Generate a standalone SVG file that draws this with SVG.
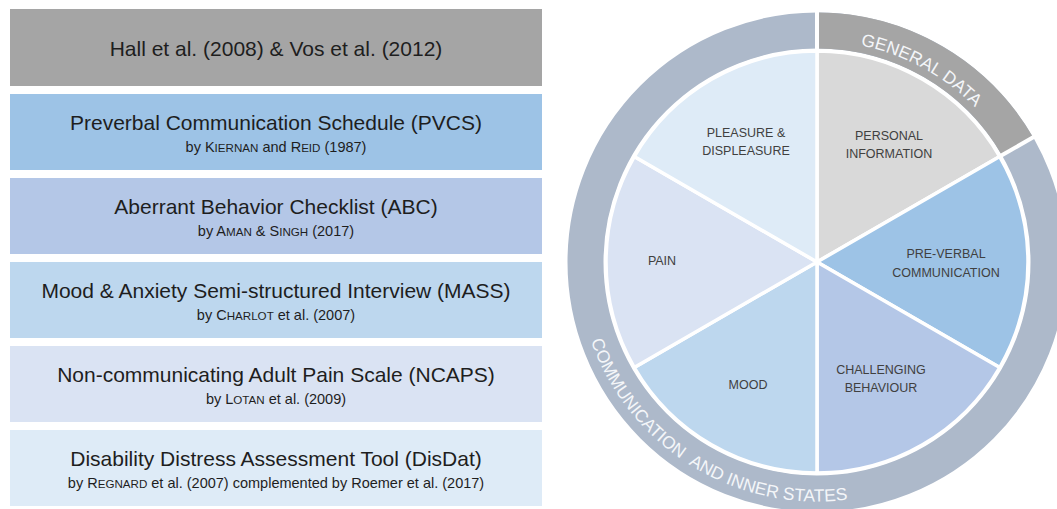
<svg xmlns="http://www.w3.org/2000/svg" width="1057" height="509" viewBox="0 0 1057 509">
<style>
.box { stroke: none; }
.t { font-family: "Liberation Sans", Arial, sans-serif; font-size: 21px; fill: #1e1e1e; text-anchor: middle; }
.s { font-family: "Liberation Sans", Arial, sans-serif; font-size: 14.5px; fill: #1e1e1e; text-anchor: middle; }
.sc { font-size: 11.6px; }
.lbl { font-family: "Liberation Sans", Arial, sans-serif; font-size: 12.5px; fill: #404040; text-anchor: middle; }
.ring { font-family: "Liberation Sans", Arial, sans-serif; font-size: 17.5px; fill: #f4f6f9; }
.mid { text-anchor: middle; }
.slice { stroke: #ffffff; stroke-width: 3.5; stroke-linejoin: round; }
.sep { stroke: #ffffff; stroke-width: 4; }
</style>
<defs>
<path id="arcGeneral" d="M817,41 A221,221 0 0 1 1008.39,151.5"/>
<path id="arcComm" d="M609.59,142.25 A239.5,239.5 0 0 0 1013.19,399.37"/>
</defs>
<rect width="1057" height="509" fill="#ffffff"/>

<g id="box-hall">
<rect class="box" x="10" y="9" width="532" height="77" fill="#a5a5a5"/>
<text class="t" x="276" y="56">Hall et al. (2008) &amp; Vos et al. (2012)</text>
</g>
<g id="box-pvcs">
<rect class="box" x="10" y="94" width="532" height="76" fill="#9dc3e6"/>
<text class="t" x="276" y="130">Preverbal Communication Schedule (PVCS)</text>
<text class="s" x="276" y="152">by K<tspan class="sc">IERNAN</tspan> and R<tspan class="sc">EID</tspan> (1987)</text>
</g>
<g id="box-abc">
<rect class="box" x="10" y="178" width="532" height="76" fill="#b4c7e7"/>
<text class="t" x="276" y="214">Aberrant Behavior Checklist (ABC)</text>
<text class="s" x="276" y="236">by A<tspan class="sc">MAN</tspan> &amp; S<tspan class="sc">INGH</tspan> (2017)</text>
</g>
<g id="box-mass">
<rect class="box" x="10" y="262" width="532" height="76" fill="#bdd7ee"/>
<text class="t" x="276" y="298">Mood &amp; Anxiety Semi-structured Interview (MASS)</text>
<text class="s" x="276" y="320">by C<tspan class="sc">HARLOT</tspan> et al. (2007)</text>
</g>
<g id="box-ncaps">
<rect class="box" x="10" y="346" width="532" height="76" fill="#dae3f3"/>
<text class="t" x="276" y="382">Non-communicating Adult Pain Scale (NCAPS)</text>
<text class="s" x="276" y="404">by L<tspan class="sc">OTAN</tspan> et al. (2009)</text>
</g>
<g id="box-disdat">
<rect class="box" x="10" y="430" width="532" height="76" fill="#deebf7"/>
<text class="t" x="276" y="466">Disability Distress Assessment Tool (DisDat)</text>
<text class="s" x="276" y="488">by R<tspan class="sc">EGNARD</tspan> et al. (2007) complemented by Roemer et al. (2017)</text>
</g>

<g id="ring-communication">
<circle cx="817" cy="262" r="231.5" fill="none" stroke="#adb9ca" stroke-width="36"/>
<text class="ring"><textPath href="#arcComm" startOffset="205.6">COMMUNICATION</textPath></text>
<text class="ring"><textPath href="#arcComm" startOffset="365.6">AND</textPath></text>
<text class="ring"><textPath href="#arcComm" startOffset="407.4">INNER</textPath></text>
<text class="ring"><textPath href="#arcComm" startOffset="466.7">STATES</textPath></text>
</g>
<g id="ring-general">
<path d="M817,30.5 A231.5,231.5 0 0 1 1017.48,146.25" fill="none" stroke="#a5a5a5" stroke-width="36"/>
<text class="ring mid"><textPath href="#arcGeneral" startOffset="47.5%">GENERAL DATA</textPath></text>
</g>
<g id="ring-separators">
<line class="sep" x1="817" y1="8" x2="817" y2="52"/>
<line class="sep" x1="999.6" y1="156.5" x2="1038" y2="134.5"/>
</g>

<g id="slice-personal">
<path class="slice" d="M817,262 L817,51 A211,211 0 0 1 999.73,156.5 Z" fill="#d9d9d9"/>
<text class="lbl" x="889" y="140">PERSONAL</text>
<text class="lbl" x="889" y="158">INFORMATION</text>
</g>
<g id="slice-preverbal">
<path class="slice" d="M817,262 L999.73,156.5 A211,211 0 0 1 999.73,367.5 Z" fill="#9dc3e6"/>
<text class="lbl" x="946" y="258">PRE-VERBAL</text>
<text class="lbl" x="946" y="277">COMMUNICATION</text>
</g>
<g id="slice-challenging">
<path class="slice" d="M817,262 L999.73,367.5 A211,211 0 0 1 817,473 Z" fill="#b4c7e7"/>
<text class="lbl" x="881" y="374">CHALLENGING</text>
<text class="lbl" x="881" y="392">BEHAVIOUR</text>
</g>
<g id="slice-mood">
<path class="slice" d="M817,262 L817,473 A211,211 0 0 1 634.27,367.5 Z" fill="#bdd7ee"/>
<text class="lbl" x="748" y="389">MOOD</text>
</g>
<g id="slice-pain">
<path class="slice" d="M817,262 L634.27,367.5 A211,211 0 0 1 634.27,156.5 Z" fill="#dae3f3"/>
<text class="lbl" x="662" y="265">PAIN</text>
</g>
<g id="slice-pleasure">
<path class="slice" d="M817,262 L634.27,156.5 A211,211 0 0 1 817,51 Z" fill="#deebf7"/>
<text class="lbl" x="746" y="137">PLEASURE &amp;</text>
<text class="lbl" x="746" y="155">DISPLEASURE</text>
</g>
<g id="connectors"/>
</svg>
